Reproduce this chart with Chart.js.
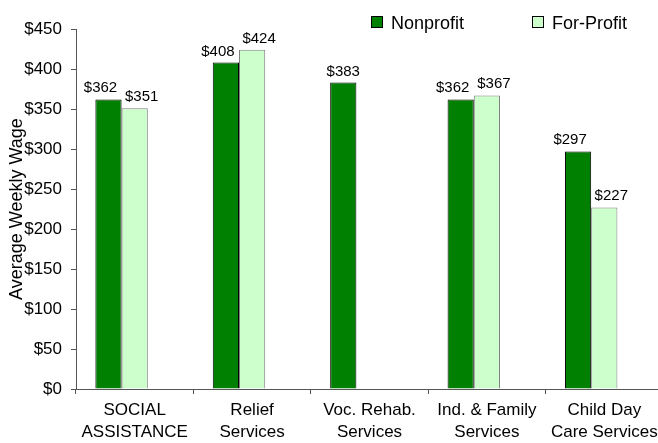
<!DOCTYPE html>
<html>
<head>
<meta charset="utf-8">
<script src="https://cdn.jsdelivr.net/npm/chart.js@4.4.0/dist/chart.umd.min.js"></script>
<style>
  html, body { margin: 0; padding: 0; background: #fff; overflow: hidden; }
  #wrap { position: relative; width: 664px; height: 443px; }
</style>
</head>
<body>
<div id="wrap"><canvas id="wageChart"></canvas></div>
<script>
const categories = [
  ['SOCIAL', 'ASSISTANCE'],
  ['Relief', 'Services'],
  ['Voc. Rehab.', 'Services'],
  ['Ind. & Family', 'Services'],
  ['Child Day', 'Care Services']
];
const nonprofitWages = [362, 408, 383, 362, 297];
const forProfitWages = [351, 424, null, 367, 227];
// empty third series, Excel left a blank slot after each pair
const blankSlot = [null, null, null, null, null];
const yMin = 0, yMax = 450, yStep = 50;

const FONT = '"Liberation Sans", Arial, sans-serif';

// value labels above the bars
const valueLabels = {
  id: 'valueLabels',
  afterDatasetsDraw(chart) {
    const ctx = chart.ctx;
    ctx.save();
    ctx.font = '15px ' + FONT;
    ctx.fillStyle = '#000';
    ctx.textAlign = 'center';
    ctx.textBaseline = 'alphabetic';
    [0, 1].forEach(di => {
      const meta = chart.getDatasetMeta(di);
      const other = chart.data.datasets[1 - di].data;
      meta.data.forEach((bar, i) => {
        const v = chart.data.datasets[di].data[i];
        if (v == null) return;
        const nudge = other[i] == null ? 0 : (di === 0 ? -8 : 7);
        ctx.fillText('$' + v, bar.x + nudge, bar.y - 7);
      });
    });
    ctx.restore();
  }
};

// legend in the top right corner
const boxLegend = {
  id: 'boxLegend',
  afterDraw(chart) {
    const ctx = chart.ctx;
    const spots = [371, 532];
    ctx.save();
    ctx.font = '18px ' + FONT;
    ctx.textBaseline = 'alphabetic';
    chart.data.datasets.slice(0, 2).forEach((ds, i) => {
      const x = spots[i];
      ctx.fillStyle = ds.backgroundColor;
      ctx.fillRect(x, 16, 12, 12);
      ctx.strokeStyle = '#000';
      ctx.lineWidth = 1;
      ctx.strokeRect(x + 0.5, 16.5, 11, 11);
      ctx.fillStyle = '#000';
      ctx.fillText(ds.label, x + 20, 28.5);
    });
    ctx.restore();
  }
};

const ctx = document.getElementById('wageChart').getContext('2d');
const wageChart = new Chart(ctx, {
  type: 'bar',
  data: {
    labels: categories,
    datasets: [
      { label: 'Nonprofit', data: nonprofitWages, backgroundColor: '#008000', borderColor: '#000', borderWidth: 1 },
      { label: 'For-Profit', data: forProfitWages, backgroundColor: '#CCFFCC', borderColor: '#808080', borderWidth: 1 },
      { label: '', data: blankSlot, backgroundColor: 'rgba(0,0,0,0)' }
    ]
  },
  options: {
    responsive: true,
    maintainAspectRatio: false,
    animation: false,
    categoryPercentage: 0.67,
    barPercentage: 1.0,
    layout: { padding: { top: 29, right: 1, bottom: 0, left: 0 } },
    plugins: {
      legend: { display: false },
      tooltip: { enabled: false }
    },
    scales: {
      x: {
        afterFit: (scale) => { scale.height = 54; },
        grid: { display: true, offset: true, drawOnChartArea: false, tickLength: 5, color: '#555' },
        border: { color: '#555' },
        ticks: { color: '#000', padding: 6, maxRotation: 0, autoSkip: false,
                 font: { family: FONT, size: 17, lineHeight: 1.25 } }
      },
      y: {
        min: yMin,
        max: yMax,
        afterFit: (scale) => { scale.width = 76; },
        grid: { display: true, drawOnChartArea: false, tickLength: 5, color: '#555' },
        border: { color: '#555' },
        ticks: { stepSize: yStep, color: '#000', padding: 9,
                 font: { family: FONT, size: 17 },
                 callback: (v) => '$' + v },
        title: { display: true, text: 'Average Weekly Wage', color: '#000',
                 padding: { top: 6, bottom: 0 },
                 font: { family: FONT, size: 18 } }
      }
    }
  },
  plugins: [valueLabels, boxLegend]
});
</script>
</body>
</html>
